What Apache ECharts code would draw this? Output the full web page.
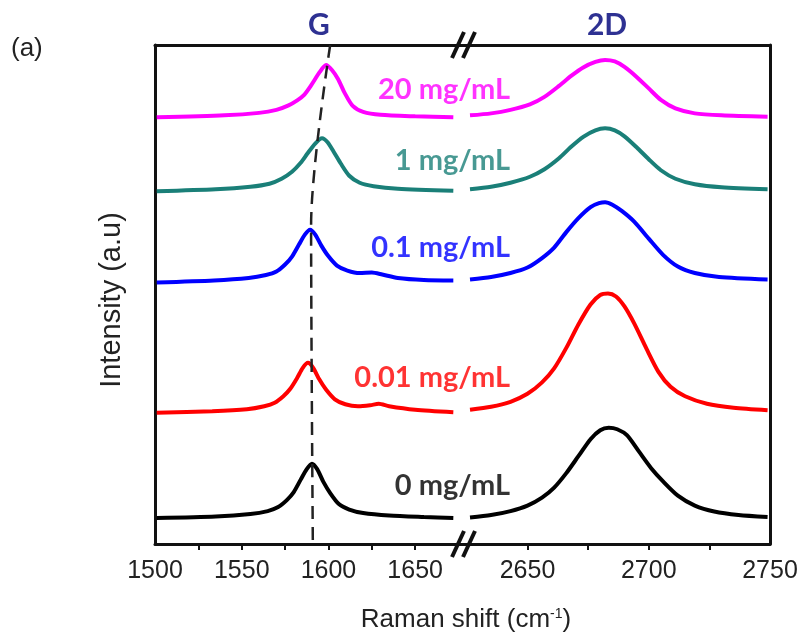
<!DOCTYPE html>
<html>
<head>
<meta charset="utf-8">
<script src="https://cdn.jsdelivr.net/npm/echarts@6.0.0/dist/echarts.min.js"></script>
<style>
  html, body { margin: 0; padding: 0; background: #fff; }
  #chart { width: 806px; height: 637px; }
</style>
</head>
<body>
<div id="chart"></div>
<script>
// axis ranges of the two halves of the broken x axis
const leftRange = [1500, 1677];
const rightRange = [2623, 2750];
const leftTicks = [1525, 1550, 1575, 1600, 1625, 1650];
const leftLabels = [1500, 1550, 1600, 1650];
const rightTicks = [2650, 2675, 2700, 2725];
const rightLabels = [2650, 2700, 2750];

// spectra, G band (left) and 2D band (right), offset intensities (a.u.)
const black_G = [[1501, 5.2], [1535, 5.5], [1555, 6.0], [1565, 6.6], [1571, 7.4], [1576, 8.8], [1580, 10.4], [1584, 12.9], [1587.5, 15.0], [1590.5, 16.1], [1593.5, 15.0], [1597, 12.5], [1601, 10.2], [1606, 8.0], [1612, 6.9], [1620, 6.2], [1635, 5.7], [1655, 5.4], [1672, 5.2]];
const black_2D = [[2626.3, 5.3], [2635, 5.8], [2643, 6.6], [2650, 7.7], [2656, 9.3], [2661, 11.3], [2666, 14.2], [2671, 17.6], [2676, 21.0], [2680, 22.8], [2683.5, 23.3], [2687, 23.0], [2691, 21.8], [2696, 18.5], [2701, 15.2], [2706, 12.5], [2712, 9.7], [2719, 7.7], [2727, 6.5], [2737, 5.8], [2749, 5.4]];

const red_G = [[1501, 26.3], [1533, 26.6], [1553, 27.0], [1563, 27.6], [1569, 28.3], [1574, 29.6], [1578, 31.1], [1582, 33.3], [1585.2, 35.3], [1588.2, 36.3], [1591.2, 35.3], [1594.7, 33.0], [1598.7, 30.9], [1603.7, 29.0], [1609.7, 28.0], [1617, 27.6], [1624, 27.8], [1629, 28.1], [1635, 27.6], [1650, 26.9], [1672, 26.4]];
const red_2D = [[2626.3, 26.9], [2635, 27.5], [2643, 28.5], [2650, 30.1], [2656, 32.4], [2661, 35.2], [2666, 39.3], [2671, 44.0], [2676, 48.0], [2680, 49.9], [2683.2, 50.2], [2686.5, 49.6], [2690, 47.6], [2694, 44.2], [2699, 39.2], [2704, 34.5], [2709, 31.5], [2715, 29.6], [2724, 28.1], [2735, 27.3], [2749, 26.8]];

const blue_G = [[1501, 52.4], [1534, 52.8], [1554, 53.3], [1564, 53.9], [1570, 54.6], [1575, 56.0], [1579, 57.6], [1583, 60.0], [1586.4, 62.0], [1589.4, 63.0], [1592.4, 62.0], [1595.9, 59.8], [1599.9, 57.7], [1604.9, 55.8], [1610.9, 54.8], [1618, 54.3], [1625, 54.4], [1631, 54.0], [1640, 53.3], [1655, 52.9], [1672, 52.8]];
const blue_2D = [[2626.3, 53.0], [2635, 53.5], [2643, 54.3], [2650, 55.4], [2656, 57.3], [2661, 59.4], [2666, 62.5], [2671, 65.3], [2676, 67.5], [2679.5, 68.3], [2682, 68.5], [2685, 68.0], [2689, 66.7], [2694, 64.6], [2700, 61.2], [2706, 57.9], [2712, 55.6], [2719, 54.3], [2729, 53.5], [2749, 53.0]];

const teal_G = [[1501, 70.7], [1535, 71.1], [1555, 71.6], [1566, 72.2], [1573, 73.2], [1579, 74.6], [1584, 76.4], [1588, 78.3], [1592.5, 80.3], [1596.3, 81.3], [1599.5, 80.5], [1603, 78.6], [1607, 76.3], [1612, 73.8], [1618, 72.4], [1626, 71.7], [1640, 71.2], [1672, 70.8]];
const teal_2D = [[2626.3, 71.1], [2635, 71.6], [2643, 72.4], [2651, 73.6], [2657, 75.1], [2663, 77.3], [2668, 79.6], [2673, 81.6], [2678, 82.9], [2682, 83.3], [2686, 82.9], [2690, 81.7], [2695, 79.5], [2700, 77.1], [2705, 74.9], [2711, 73.2], [2719, 72.1], [2730, 71.5], [2749, 71.1]];

const magenta_G = [[1501, 85.5], [1540, 85.9], [1560, 86.4], [1570, 87.0], [1577, 87.9], [1582, 88.9], [1586, 90.0], [1590, 91.9], [1595, 94.6], [1598.6, 96.0], [1602, 95.0], [1605.5, 93.2], [1609.5, 90.3], [1614, 87.8], [1620, 86.6], [1630, 86.0], [1650, 85.7], [1672, 85.5]];
const magenta_2D = [[2626.3, 85.9], [2635, 86.3], [2643, 87.0], [2651, 88.1], [2657, 89.6], [2663, 91.8], [2668, 93.8], [2673, 95.5], [2678, 96.6], [2682, 97.0], [2686, 96.7], [2690, 95.6], [2695, 93.6], [2700, 91.3], [2705, 89.0], [2711, 87.3], [2719, 86.3], [2730, 85.9], [2749, 85.6]];

// dashed guide through the G peaks
const gGuide = [[1601, 100], [1590, 64], [1591, 0]];

const seriesNames = ["0 mg/mL", "0.01 mg/mL", "0.1 mg/mL", "1 mg/mL", "20 mg/mL"];
const seriesColors = ["#000000", "#ff0000", "#0000ff", "#1a7f78", "#ff00ff"];
const gData = [black_G, red_G, blue_G, teal_G, magenta_G];
const dData = [black_2D, red_2D, blue_2D, teal_2D, magenta_2D];
const labelX = 2642.8;
const labelY = [11.6, 33.3, 59.4, 76.9, 91.0];

const gridTop = 45;
const gridBottom = 93;
const leftGrid = { left: 155, width: 307 };
const rightGrid = { left: 462, width: 308 };

const axisColor = "#111";
const tickFont = { fontFamily: "Liberation Sans", fontSize: 25, color: "#222" };

const bottomAxis = (gridIndex, range, ticks, labels) => ({
  type: "value",
  gridIndex,
  position: "bottom",
  min: range[0],
  max: range[1],
  axisLine: { lineStyle: { color: axisColor, width: 3 } },
  axisTick: { show: true, length: 6, lineStyle: { color: axisColor, width: 2 }, customValues: ticks },
  axisLabel: { ...tickFont, margin: 15, customValues: labels, formatter: (v) => String(v) },
  splitLine: { show: false },
});

const topAxis = (gridIndex, range) => ({
  type: "value",
  gridIndex,
  position: "top",
  min: range[0],
  max: range[1],
  axisLine: { lineStyle: { color: axisColor, width: 3 } },
  axisTick: { show: false },
  axisLabel: { show: false },
  splitLine: { show: false },
});

const series = [];
seriesNames.forEach((name, i) => {
  const style = { color: seriesColors[i], width: 4 };
  series.push({
    type: "line", name, xAxisIndex: 0, yAxisIndex: 0, data: gData[i],
    smooth: 0.25, showSymbol: false, lineStyle: style, itemStyle: { color: seriesColors[i] },
  });
  series.push({
    type: "line", name, xAxisIndex: 2, yAxisIndex: 1, data: dData[i],
    smooth: 0.25, showSymbol: false, lineStyle: style, itemStyle: { color: seriesColors[i] },
  });
});

series.push({
  type: "line",
  xAxisIndex: 0,
  yAxisIndex: 0,
  data: gGuide,
  smooth: 0.3,
  showSymbol: false,
  z: 5,
  lineStyle: { color: "#222", width: 2.5, type: [13, 8] },
});

series.push({
  type: "scatter",
  xAxisIndex: 2,
  yAxisIndex: 1,
  symbolSize: 0,
  z: 6,
  data: seriesNames.map((name, i) => ({
    value: [labelX, labelY[i]],
    name,
    label: { color: seriesColors[i] },
  })),
  label: {
    show: true,
    position: "left",
    distance: 0,
    formatter: (p) => p.name,
    fontFamily: "Lato",
    fontWeight: "bold",
    fontSize: 29,
  },
});

// "//" marks on the broken axis
const breakX = 463;
const breakMarks = [gridTop, 637 - gridBottom].flatMap((y) =>
  [-5, 6].map((dx) => ({
    type: "line",
    shape: { x1: breakX + dx - 6, y1: y + 13, x2: breakX + dx + 6, y2: y - 13 },
    style: { stroke: "#111", lineWidth: 4 },
    z: 10,
  }))
);

const option = {
  animation: false,
  backgroundColor: "#fff",
  grid: [
    { ...leftGrid, top: gridTop, bottom: gridBottom },
    { ...rightGrid, top: gridTop, bottom: gridBottom },
  ],
  xAxis: [
    bottomAxis(0, leftRange, leftTicks, leftLabels),
    topAxis(0, leftRange),
    bottomAxis(1, rightRange, rightTicks, rightLabels),
    topAxis(1, rightRange),
  ],
  yAxis: [
    {
      type: "value", gridIndex: 0, min: 0, max: 100, position: "left",
      axisLine: { show: true, lineStyle: { color: axisColor, width: 3 } },
      axisTick: { show: false }, axisLabel: { show: false }, splitLine: { show: false },
    },
    {
      type: "value", gridIndex: 1, min: 0, max: 100, position: "right",
      axisLine: { show: true, lineStyle: { color: axisColor, width: 3 } },
      axisTick: { show: false }, axisLabel: { show: false }, splitLine: { show: false },
    },
  ],
  graphic: [
    ...breakMarks,
    {
      type: "text", left: 11, top: 36,
      style: { text: "(a)", fontFamily: "Liberation Sans", fontSize: 26, fill: "#222" },
    },
    {
      type: "text", x: 112, y: 300, rotation: Math.PI / 2,
      style: { text: "Intensity (a.u)", align: "center", verticalAlign: "middle", fontFamily: "Liberation Sans", fontSize: 29, fill: "#222" },
    },
    {
      type: "text", x: 319, y: 25,
      style: { text: "G", align: "center", verticalAlign: "middle", fontFamily: "Lato", fontWeight: "bold", fontSize: 30, fill: "#2e3192" },
    },
    {
      type: "text", x: 607, y: 25,
      style: { text: "2D", align: "center", verticalAlign: "middle", fontFamily: "Lato", fontWeight: "bold", fontSize: 30, fill: "#2e3192" },
    },
    {
      type: "text", x: 466, y: 620,
      style: {
        text: "Raman shift (cm{sup|-1})",
        align: "center", verticalAlign: "middle",
        fontFamily: "Liberation Sans", fontSize: 26, fill: "#222",
        rich: { sup: { fontFamily: "Liberation Sans", fontSize: 14, fill: "#222", verticalAlign: "top", padding: [0, 0, 11, 0] } },
      },
    },
  ],
  series,
};

const chart = echarts.init(document.getElementById("chart"));
chart.setOption(option);
</script>
</body>
</html>
